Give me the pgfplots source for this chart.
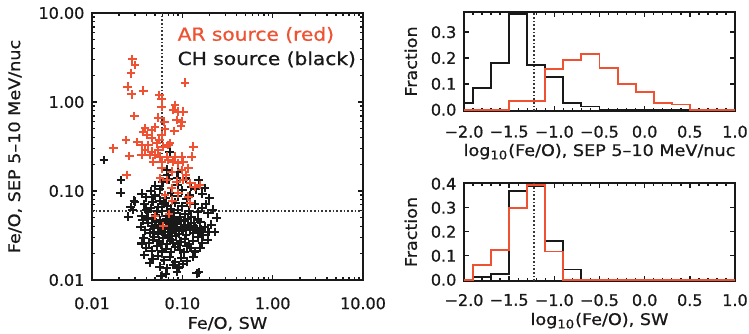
\documentclass[border=0pt]{standalone}
\usepackage{pgfplots}
\pgfplotsset{compat=1.18}
\usepackage{fontspec}
\setmainfont{DejaVu Sans}[FakeBold=0.8]
\newfontfamily\lblfont[FakeStretch=1.1,FakeBold=0.8]{DejaVu Sans}
\newfontfamily\legfont[FakeStretch=1.12,FakeBold=0.8]{DejaVu Sans}
\definecolor{idlred}{RGB}{238,82,50}
\definecolor{idlblk}{RGB}{25,25,25}
\definecolor{dotc}{RGB}{55,55,55}

\pgfplotsset{
  idlaxis/.style={
    scale only axis,
    anchor=south west,
    line width=1pt,
    axis line style={line width=1pt, idlblk},
    tick style={line width=0.7pt, idlblk},
    major tick length=2.6pt,
    minor tick length=1.4pt,
    tick align=inside,
    ticklabel style={font=\fontsize{8}{9}\selectfont, text=idlblk},
    label style={font=\lblfont\fontsize{8}{9}\selectfont, text=idlblk},
  },
  dotline/.style={dotc, line width=0.85pt, dash pattern=on 0.85pt off 1.0pt},
  histline/.style={const plot, line width=0.95pt},
}

\pgfplotstableread{
lx ly
-1.867 -0.652
-1.679 -0.876
-1.682 -1.019
-1.535 -1.109
-1.524 -1.120
-1.598 -1.289
-1.549 -1.213
-1.570 -1.180
-0.841 -1.925
-0.815 -1.915
-1.140 -0.560
-1.170 -0.760
-1.050 -0.790
-1.16 -0.82
-1.06 -0.85
-0.96 -0.86
-0.749 -0.966
-0.62 -1.30
-1.22 -0.90
-1.05 -0.93
-0.82 -0.88
-0.90 -0.95
-1.30 -0.94
-1.15 -0.87
-1.35 -1.00
-1.25 -0.98
-1.12 -1.02
-1.00 -0.99
-0.92 -1.05
-0.78 -1.03
-0.70 -1.08
-1.40 -1.07
-1.18 -1.08
-1.05 -1.06
-0.85 -0.98
-1.30 -1.05
-0.95 -1.09
-1.45 -1.03
-1.42 -1.15
-1.33 -1.12
-1.27 -1.18
-1.20 -1.14
-1.13 -1.20
-1.08 -1.13
-1.00 -1.17
-0.93 -1.22
-0.86 -1.15
-0.78 -1.19
-0.72 -1.25
-0.66 -1.21
-1.38 -1.24
-1.30 -1.27
-1.23 -1.22
-1.16 -1.28
-1.10 -1.25
-1.03 -1.29
-0.97 -1.26
-0.90 -1.29
-0.83 -1.24
-1.45 -1.28
-1.25 -1.11
-1.17 -1.17
-1.35 -1.19
-1.05 -1.21
-0.95 -1.13
-0.74 -1.15
-1.40 -1.21
-1.28 -1.23
-1.44 -1.33
-1.38 -1.36
-1.33 -1.31
-1.29 -1.38
-1.25 -1.33
-1.21 -1.40
-1.18 -1.32
-1.14 -1.37
-1.10 -1.34
-1.06 -1.41
-1.02 -1.33
-0.98 -1.38
-0.94 -1.31
-0.90 -1.36
-0.85 -1.42
-0.80 -1.35
-0.75 -1.40
-0.68 -1.38
-0.64 -1.46
-1.41 -1.44
-1.36 -1.47
-1.31 -1.42
-1.27 -1.48
-1.23 -1.45
-1.19 -1.49
-1.15 -1.43
-1.12 -1.47
-1.08 -1.44
-1.04 -1.48
-1.00 -1.45
-0.96 -1.49
-0.92 -1.44
-0.88 -1.47
-0.82 -1.45
-0.77 -1.49
-0.71 -1.46
-1.34 -1.39
-1.22 -1.36
-1.16 -1.41
-1.13 -1.30
-1.07 -1.37
-1.01 -1.40
-0.97 -1.34
-0.87 -1.39
-1.26 -1.42
-1.39 -1.30
-1.20 -1.46
-1.09 -1.31
-0.93 -1.40
-1.30 -1.35
-1.24 -1.39
-1.17 -1.35
-1.11 -1.39
-1.05 -1.33
-0.99 -1.43
-1.32 -1.46
-1.46 -1.40
-0.83 -1.32
-0.79 -1.43
-1.14 -1.46
-1.43 -1.53
-1.37 -1.58
-1.31 -1.52
-1.26 -1.56
-1.21 -1.53
-1.17 -1.60
-1.12 -1.55
-1.07 -1.51
-1.02 -1.57
-0.97 -1.54
-0.93 -1.60
-0.88 -1.56
-0.83 -1.52
-0.78 -1.58
-0.72 -1.55
-1.40 -1.64
-1.34 -1.67
-1.28 -1.62
-1.23 -1.68
-1.18 -1.65
-1.13 -1.69
-1.08 -1.63
-1.03 -1.66
-0.98 -1.69
-0.91 -1.64
-0.86 -1.68
-1.45 -1.59
-1.24 -1.60
-1.15 -1.52
-1.05 -1.60
-0.95 -1.62
-1.32 -1.55
-1.10 -1.58
-0.80 -1.64
-1.42 -1.72
-1.33 -1.76
-1.27 -1.73
-1.20 -1.78
-1.14 -1.74
-1.08 -1.80
-1.01 -1.75
-0.95 -1.79
-0.88 -1.74
-1.25 -1.85
-1.17 -1.87
-1.10 -1.83
-1.04 -1.86
-0.99 -1.82
-1.36 -1.81
-1.18 -1.93
-1.24 -1.96
-1.06 -1.91
}\chdata

\pgfplotstableread{
lx ly
-1.554 0.480
-1.524 0.416
-1.568 0.322
-1.605 0.172
-1.560 0.087
-1.432 0.127
-0.970 0.217
-1.255 0.079
-1.228 0.030
-1.228 -0.052
-1.081 -0.034
-1.100 -0.090
-1.044 -0.109
-0.989 -0.109
-1.532 -0.157
-1.266 -0.176
-1.199 -0.221
-1.062 -0.202
-1.007 -0.221
-1.413 -0.296
-1.302 -0.284
-1.432 -0.334
-1.339 -0.315
-1.089 -0.326
-1.014 -0.266
-1.192 -0.307
-1.228 -0.371
-1.255 -0.427
-1.623 -0.427
-1.764 -0.520
-1.587 -0.607
-1.450 -0.483
-1.413 -0.539
-1.450 -0.596
-1.358 -0.596
-1.283 -0.464
-1.210 -0.502
-1.155 -0.483
-1.173 -0.615
-1.081 -0.615
-1.007 -0.615
-1.100 -0.671
-1.377 -0.483
-1.136 -0.464
-1.340 -0.560
-1.302 -0.596
-1.247 -0.615
-1.321 -0.671
-1.228 -0.671
-1.155 -0.652
-1.044 -0.689
-0.989 -0.671
-1.616 -0.820
-1.228 -0.745
-1.117 -0.783
-1.007 -0.764
-0.934 -0.745
-1.247 -0.857
-1.173 -0.876
-1.062 -0.895
-0.989 -0.876
-0.915 -0.913
-0.859 -0.952
-1.117 -0.970
-1.044 -1.026
-1.192 -1.045
-0.934 -1.064
-1.302 -1.281
-1.147 -1.258
-1.210 -1.393
-0.915 -1.138
-1.111 -1.109
-0.878 -0.502
-0.896 -0.615
-0.804 -0.933
-1.391 -0.371
-1.336 -0.404
-1.502 -0.449
-0.959 -0.820
-1.269 -0.539
}\ardata

\begin{document}
\begin{tikzpicture}
% ---------------- scatter ----------------
\begin{axis}[idlaxis, at={(46pt,26.5pt)}, width=135.5pt, height=133.5pt,
  xmin=-2, xmax=1, ymin=-2, ymax=1,
  xtick={-2,-1,0,1}, xticklabels={0.01,0.10,1.00,10.00},
  ytick={-2,-1,0,1}, yticklabels={0.01,0.10,1.00,10.00},
  minor xtick={-1.699,-1.523,-1.398,-1.301,-1.222,-1.155,-1.097,-1.046,
               -0.699,-0.523,-0.398,-0.301,-0.222,-0.155,-0.097,-0.046,
               0.301,0.477,0.602,0.699,0.778,0.845,0.903,0.954},
  minor ytick={-1.699,-1.523,-1.398,-1.301,-1.222,-1.155,-1.097,-1.046,
               -0.699,-0.523,-0.398,-0.301,-0.222,-0.155,-0.097,-0.046,
               0.301,0.477,0.602,0.699,0.778,0.845,0.903,0.954},
  xticklabel style={yshift=-4.8pt},
  xlabel={Fe/O, SW},
  ylabel={Fe/O, SEP 5–10 MeV/nuc},
  xlabel style={at={(axis description cs:0.5,-0.164)}, anchor=center},
  ylabel style={at={(axis description cs:-0.284,0.5)}, anchor=center},
]
\addplot[dotline] coordinates {(-1.222,-2) (-1.222,1)};
\addplot[dotline] coordinates {(-2,-1.222) (1,-1.222)};
\addplot[only marks, mark=+, mark size=2.2pt, line width=1.05pt, idlblk] table[x=lx, y=ly] {\chdata};
\addplot[only marks, mark=+, mark size=2.2pt, line width=1.05pt, idlred] table[x=lx, y=ly] {\ardata};
\end{axis}

% ---------------- top histogram (SEP) ----------------
\begin{axis}[idlaxis, at={(232pt,111pt)}, width=135.5pt, height=49.5pt,
  xmin=-2, xmax=1, ymin=-0.005, ymax=0.378,
  xtick={-2,-1.5,-1,-0.5,0,0.5,1},
  xticklabels={−2.0,−1.5,−1.0,−0.5,0.0,0.5,1.0},
  minor x tick num=4,
  ytick={0,0.1,0.2,0.3}, yticklabels={0.0,0.1,0.2,0.3},
  xticklabel style={yshift=-3.5pt},
  xlabel={log\textsubscript{10}(Fe/O), SEP 5–10 MeV/nuc},
  ylabel={Fraction},
  xlabel style={at={(axis description cs:0.5,-0.411)}, anchor=center},
  ylabel style={at={(axis description cs:-0.196,0.5)}, anchor=center},
]
\addplot[dotline] coordinates {(-1.222,-0.005) (-1.222,0.378)};
\addplot[histline, idlblk] coordinates {(-2.0,0.025) (-1.9,0.084) (-1.7,0.18) (-1.5,0.37) (-1.3,0.174) (-1.1,0.125) (-0.9,0.025) (-0.7,0.0125) (-0.5,0) (1.0,0)};
\addplot[histline, idlred] coordinates {(-2.0,0) (-1.5,0.0325) (-1.1,0.159) (-0.9,0.1925) (-0.7,0.215) (-0.5,0.1625) (-0.3,0.099) (-0.1,0.0675) (0.1,0.0275) (0.3,0.02) (0.5,0) (1.0,0)};
\end{axis}

% ---------------- bottom histogram (SW) ----------------
\begin{axis}[idlaxis, at={(232pt,26pt)}, width=135.5pt, height=49pt,
  xmin=-2, xmax=1, ymin=-0.005, ymax=0.403,
  xtick={-2,-1.5,-1,-0.5,0,0.5,1},
  xticklabels={−2.0,−1.5,−1.0,−0.5,0.0,0.5,1.0},
  minor x tick num=4,
  ytick={0,0.1,0.2,0.3,0.4}, yticklabels={0.0,0.1,0.2,0.3,0.4},
  xticklabel style={yshift=-2.7pt},
  xlabel={log\textsubscript{10}(Fe/O), SW},
  ylabel={Fraction},
  xlabel style={at={(axis description cs:0.5,-0.405)}, anchor=center},
  ylabel style={at={(axis description cs:-0.196,0.5)}, anchor=center},
]
\addplot[dotline] coordinates {(-1.222,-0.005) (-1.222,0.403)};
\addplot[histline, idlblk] coordinates {(-2.0,0) (-1.9,0.01) (-1.7,0.023) (-1.5,0.37) (-1.3,0.39) (-1.1,0.16) (-0.9,0.043) (-0.7,0) (1.0,0)};
\addplot[histline, idlred] coordinates {(-2.0,0) (-1.9,0.06) (-1.7,0.123) (-1.5,0.30) (-1.3,0.393) (-1.1,0.118) (-0.9,0) (1.0,0)};
\end{axis}

% legend text
\node[anchor=base west, inner sep=0pt, text=idlred, font=\legfont\fontsize{9}{10}\selectfont] at (88.65pt,146.15pt) {AR source (red)};
\node[anchor=base west, inner sep=0pt, text=idlblk, font=\legfont\fontsize{9}{10}\selectfont] at (88.65pt,134pt) {CH source (black)};

\pgfresetboundingbox
\path[use as bounding box] (0,0) rectangle (374.5pt,166.5pt);
\end{tikzpicture}
\end{document}
